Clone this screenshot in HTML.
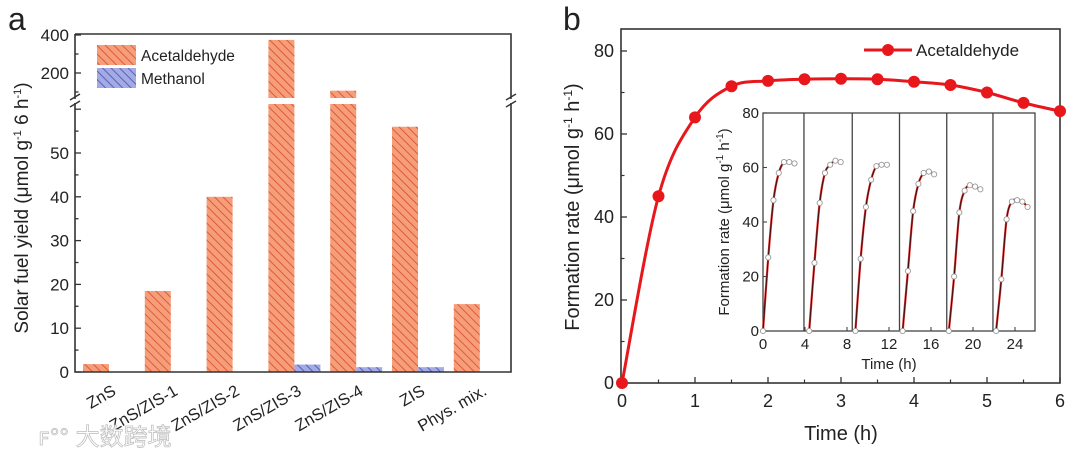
<!DOCTYPE html>
<html><head><meta charset="utf-8">
<style>
html,body{margin:0;padding:0;background:#fff;}
svg{display:block;font-family:"Liberation Sans","Noto Sans CJK SC",sans-serif;}
</style></head>
<body>
<svg id="c" width="1080" height="454" viewBox="0 0 1080 454" xmlns="http://www.w3.org/2000/svg">
<defs>
<pattern id="hatchO" width="6" height="6" patternUnits="userSpaceOnUse" patternTransform="rotate(-45)">
<rect width="6" height="6" fill="#f69d7a"/><line x1="0" y1="0" x2="0" y2="6" stroke="#d9502e" stroke-width="1.7"/>
</pattern>
<pattern id="hatchB" width="6" height="6" patternUnits="userSpaceOnUse" patternTransform="rotate(-45)">
<rect width="6" height="6" fill="#a3aae4"/><line x1="0" y1="0" x2="0" y2="6" stroke="#4a56b0" stroke-width="1.7"/>
</pattern>
</defs>
<g id="pa"></g>
<g id="pb"></g>
<g id="pi"></g>
</svg>
<script>
// Panel a data
const categories = ["ZnS","ZnS/ZIS-1","ZnS/ZIS-2","ZnS/ZIS-3","ZnS/ZIS-4","ZIS","Phys. mix."];
const acetaldehyde = [1.8, 18.5, 40, 374, 107, 56, 15.5];
const methanol = [0, 0, 0, 1.7, 1.1, 1.1, 0];
const lowerTicks = [0,10,20,30,40,50];
const upperTicks = [200,400];
// Panel b data
const timeB = [0,0.5,1,1.5,2,2.5,3,3.5,4,4.5,5,5.5,6];
const rateB = [0,45,64,71.5,72.8,73.2,73.3,73.2,72.6,71.8,70,67.5,65.5];
const xTicksB = [0,1,2,3,4,5,6];
const yTicksB = [0,20,40,60,80];
// Inset data
const cycleStarts = [0,4.4,8.8,13.3,17.7,22.2];
const separators = [3.9,8.5,13.0,17.5,21.9];
const cycle1 = [0,27,48,58,62,62,61.5];
const cycle2 = [0,25,47,58,61,62.5,62];
const cycle3 = [0,26.5,45.5,55.5,60.5,61,61];
const cycle4 = [0,22,44,54,58,58.5,57.5];
const cycle5 = [0,20,43.5,51.5,53.5,53,52];
const cycle6 = [0,19,41,47.5,48,47.5,45.5];
const cycles = [cycle1,cycle2,cycle3,cycle4,cycle5,cycle6];
const insetXTicks = [0,4,8,12,16,20,24];
const insetYTicks = [0,20,40,60,80];

const NS="http://www.w3.org/2000/svg";
function mk(parent,tag,attrs,text){const e=document.createElementNS(NS,tag);for(const k in attrs)e.setAttribute(k,attrs[k]);if(text!==undefined)e.textContent=text;parent.appendChild(e);return e;}

// ---------- Panel a ----------
const pa=document.getElementById('pa');
const L=75,R=511,T=34,B=372;
const yLow=v=>B-v*4.38;
const lowTop=104, upBot=98;
const yUp=v=>35+(400-v)*(38/200);
const xc=i=>96+i*61.8;
const BW=26;
let t=mk(pa,'text',{x:8,y:30,'font-size':32,fill:'#222'},'a');

categories.forEach((c,i)=>{
  const v=acetaldehyde[i], x=xc(i)-BW/2;
  if(v<=61){
    const r=mk(pa,'rect',{x:x,y:yLow(v),width:BW,height:B-yLow(v),fill:'url(#hatchO)'});
    
  } else {
    const r=mk(pa,'rect',{x:x,y:lowTop,width:BW,height:B-lowTop,fill:'url(#hatchO)'});
    
    const r2=mk(pa,'rect',{x:x,y:yUp(v),width:BW,height:upBot-yUp(v),fill:'url(#hatchO)'});
    
  }
  const m=methanol[i];
  if(m>0){
    const r=mk(pa,'rect',{x:x+BW,y:yLow(m),width:BW,height:B-yLow(m),fill:'url(#hatchB)'});
    
  }
  const lb=mk(pa,'text',{x:xc(i)+21,y:394,'font-size':16.5,fill:'#222','text-anchor':'end',transform:`rotate(-30 ${xc(i)+21} 394)`},c);
  
});
mk(pa,'path',{d:`M${L},${T}H${R}V${upBot+1}M${R},${lowTop-1}V${B}H${L}V${lowTop-1}M${L},${upBot+1}V${T}`,fill:'none',stroke:'#333','stroke-width':1.6});
[L,R].forEach(x=>{mk(pa,'path',{d:`M${x-5},${upBot+2}L${x+5},${upBot-4}M${x-5},${lowTop+3}L${x+5},${lowTop-3}`,stroke:'#333','stroke-width':1.4});});
for(let v=0;v<=60;v+=5){const y=yLow(v);if(y<lowTop)continue;mk(pa,'line',{x1:L,x2:L+(v%10===0?6:3.5),y1:y,y2:y,stroke:'#333','stroke-width':1.3});}
lowerTicks.forEach(v=>{const e=mk(pa,'text',{x:L-6,y:yLow(v)+6,'font-size':17,fill:'#222','text-anchor':'end'},String(v));});
[100,200,300,400].forEach(v=>{const y=yUp(v);if(y>upBot)return;mk(pa,'line',{x1:L,x2:L+(v%200===0?6:3.5),y1:y,y2:y,stroke:'#333','stroke-width':1.3});});
upperTicks.forEach(v=>{const e=mk(pa,'text',{x:L-6,y:yUp(v)+6,'font-size':17,fill:'#222','text-anchor':'end'},String(v));});
t=mk(pa,'text',{x:0,y:0,'font-size':19,fill:'#222','text-anchor':'middle',transform:'translate(28,208) rotate(-90)'});

t.innerHTML='Solar fuel yield (μmol g<tspan dy="-7" font-size="11">-1</tspan><tspan dy="7"> 6 h</tspan><tspan dy="-7" font-size="11">-1</tspan><tspan dy="7">)</tspan>';
let lg=mk(pa,'g',{});
mk(lg,'rect',{x:97,y:45,width:39,height:20,fill:'url(#hatchO)'});
mk(lg,'rect',{x:97,y:68,width:39,height:20,fill:'url(#hatchB)'});
t=mk(lg,'text',{x:141,y:61,'font-size':15.5,fill:'#222'},'Acetaldehyde');
t=mk(lg,'text',{x:141,y:84,'font-size':15.5,fill:'#222'},'Methanol');
t=mk(pa,'text',{x:38,y:445,'font-size':24,fill:'#fff',stroke:'#bbb','stroke-width':0.7},'ꜰ°° 大数跨境');


// ---------- Panel b ----------
const pb=document.getElementById('pb');
const bL=621,bR=1060,bT=29,bB=383;
const bx=v=>622+v*73;
const by=v=>383-v*4.15;
t=mk(pb,'text',{x:563,y:30,'font-size':32,fill:'#222'},'b');

mk(pb,'rect',{x:bL,y:bT,width:bR-bL,height:bB-bT,fill:'none',stroke:'#333','stroke-width':1.6});
xTicksB.forEach(v=>{mk(pb,'line',{x1:bx(v),x2:bx(v),y1:bB,y2:bB-6,stroke:'#333','stroke-width':1.3});
 const e=mk(pb,'text',{x:bx(v),y:bB+24,'font-size':18,fill:'#222','text-anchor':'middle'},String(v));});
for(let v=0.5;v<6;v+=1)mk(pb,'line',{x1:bx(v),x2:bx(v),y1:bB,y2:bB-3.5,stroke:'#333','stroke-width':1.2});
yTicksB.forEach(v=>{mk(pb,'line',{x1:bL,x2:bL+6,y1:by(v),y2:by(v),stroke:'#333','stroke-width':1.3});
 const e=mk(pb,'text',{x:bL-7,y:by(v)+6,'font-size':18,fill:'#222','text-anchor':'end'},String(v));});
for(let v=10;v<80;v+=20)mk(pb,'line',{x1:bL,x2:bL+3.5,y1:by(v),y2:by(v),stroke:'#333','stroke-width':1.2});
t=mk(pb,'text',{x:bx(3),y:440,'font-size':20,fill:'#222','text-anchor':'middle'},'Time (h)');

t=mk(pb,'text',{x:0,y:0,'font-size':20,fill:'#222','text-anchor':'middle',transform:'translate(579,207) rotate(-90)'});

t.innerHTML='Formation rate (μmol g<tspan dy="-7" font-size="12">-1</tspan><tspan dy="7"> h</tspan><tspan dy="-7" font-size="12">-1</tspan><tspan dy="7">)</tspan>';
function smooth(pts){let d=`M${pts[0][0]},${pts[0][1]}`;for(let i=0;i<pts.length-1;i++){const p0=pts[Math.max(0,i-1)],p1=pts[i],p2=pts[i+1],p3=pts[Math.min(pts.length-1,i+2)];
 const c1=[p1[0]+(p2[0]-p0[0])/6,p1[1]+(p2[1]-p0[1])/6],c2=[p2[0]-(p3[0]-p1[0])/6,p2[1]-(p3[1]-p1[1])/6];d+=`C${c1[0]},${c1[1]} ${c2[0]},${c2[1]} ${p2[0]},${p2[1]}`;}return d;}
const ptsB=timeB.map((x,i)=>[bx(x),by(rateB[i])]);
let ln=mk(pb,'path',{d:smooth(ptsB),fill:'none',stroke:'#e8171b','stroke-width':3});

ptsB.forEach((p,i)=>{const c=mk(pb,'circle',{cx:p[0],cy:p[1],r:6,fill:'#e8171b'});});
lg=mk(pb,'g',{});
mk(lg,'line',{x1:864,x2:912,y1:50,y2:50,stroke:'#e8171b','stroke-width':3});
mk(lg,'circle',{cx:888,cy:50,r:6,fill:'#e8171b'});
t=mk(lg,'text',{x:916,y:56,'font-size':17,fill:'#222'},'Acetaldehyde');

// ---------- Inset ----------
const pi=document.getElementById('pi');
const iL=763,iR=1035,iT=113,iB=331;
const ix=v=>763+v*10.5;
const iy=v=>331-v*(218/80);
mk(pi,'rect',{x:iL,y:iT,width:iR-iL,height:iB-iT,fill:'#fff',stroke:'#444','stroke-width':1.3});
separators.forEach(s=>{const l=mk(pi,'line',{x1:ix(s),x2:ix(s),y1:iT,y2:iB,stroke:'#444','stroke-width':1.3});});
insetXTicks.forEach(v=>{mk(pi,'line',{x1:ix(v),x2:ix(v),y1:iB,y2:iB-4,stroke:'#444','stroke-width':1.1});
 const e=mk(pi,'text',{x:ix(v),y:iB+18,'font-size':15,fill:'#222','text-anchor':'middle'},String(v));});
insetYTicks.forEach(v=>{mk(pi,'line',{x1:iL,x2:iL+4,y1:iy(v),y2:iy(v),stroke:'#444','stroke-width':1.1});
 const e=mk(pi,'text',{x:iL-4,y:iy(v)+5,'font-size':15,fill:'#222','text-anchor':'end'},String(v));});
t=mk(pi,'text',{x:ix(12),y:iB+38,'font-size':15,fill:'#222','text-anchor':'middle'},'Time (h)');

t=mk(pi,'text',{x:0,y:0,'font-size':15,fill:'#222','text-anchor':'middle',transform:'translate(729,222) rotate(-90)'});

t.innerHTML='Formation rate (μmol g<tspan dy="-6" font-size="10">-1</tspan><tspan dy="6"> h</tspan><tspan dy="-6" font-size="10">-1</tspan><tspan dy="6">)</tspan>';
cycles.forEach((vals,k)=>{
  const pts=vals.map((v,j)=>[ix(cycleStarts[k]+j*0.5),iy(v)]);
  mk(pi,'path',{d:smooth(pts),fill:'none',stroke:'#e03030','stroke-width':2.2});
  const l=mk(pi,'path',{d:smooth(pts),fill:'none',stroke:'#3a1010','stroke-width':1});
  
  pts.forEach(p=>{const c=mk(pi,'circle',{cx:p[0],cy:p[1],r:2.6,fill:'#fff',stroke:'#999','stroke-width':0.9});});
});
</script>
</body></html>
